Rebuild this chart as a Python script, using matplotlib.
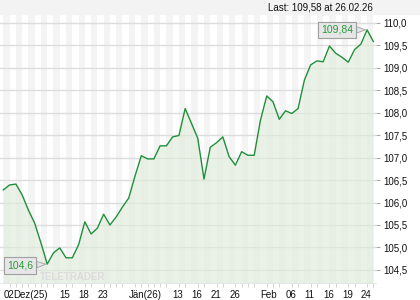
import matplotlib
matplotlib.use("Agg")
import matplotlib.pyplot as plt
from matplotlib.patches import Rectangle

plt.rcParams['font.family'] = ['Liberation Sans', 'DejaVu Sans']

# closing prices, one per trading day 02.12.25 .. 26.02.26
prices = [106.28, 106.39, 106.41, 106.17, 105.83, 105.54, 105.10, 104.63, 104.88, 104.99,
          104.77, 104.77, 105.06, 105.57, 105.30, 105.43, 105.74, 105.50, 105.68, 105.90,
          106.10, 106.59, 107.04, 106.97, 106.97, 107.26, 107.26, 107.46, 107.49, 108.09,
          107.76, 107.43, 106.52, 107.23, 107.33, 107.46, 107.02, 106.83, 107.13, 107.05,
          107.05, 107.83, 108.37, 108.24, 107.85, 108.04, 107.98, 108.09, 108.72, 109.06,
          109.15, 109.13, 109.48, 109.32, 109.23, 109.12, 109.40, 109.52, 109.84, 109.58]

tick_pos = [0, 1.55, 9, 12, 15, 20, 27, 30, 33, 36, 41, 45, 48, 51, 54, 57]
tick_text = ['02', 'Dez(25)', '15', '18', '23', 'Jän(26)', '13', '16', '21', '26',
             'Feb', '06', '11', '16', '19', '24']
y_ticks = [104.5, 105.0, 105.5, 106.0, 106.5, 107.0, 107.5, 108.0, 108.5, 109.0, 109.5, 110.0]

last_text = 'Last: 109,58 at 26.02.26'

x = list(range(len(prices)))
ymin, ymax = 104.21, 110.17

fig = plt.figure(figsize=(4.2, 3.0), dpi=100)
fig.patches.append(Rectangle((0, 1 - 14 / 300), 1, 14 / 300, transform=fig.transFigure,
                             color='#f3f3f3', zorder=0))
ax = fig.add_axes([0.0, 0.0567, 0.8964, 0.8933])

# alternating day stripes
for k in range(0, len(prices) - 1, 2):
    ax.axvspan(k, k + 1, color='#f4f4f4', lw=0, zorder=0)

for v in y_ticks:
    ax.axhline(v, color='#dddddd', lw=1, zorder=1)

ax.fill_between(x, prices, ymin, color='#e0ecdc', alpha=0.65, lw=0, zorder=2)
ax.plot(x, prices, color='#1f8f3a', lw=1.0, zorder=3)

ax.set_xlim(-0.53, 59.5)
ax.set_ylim(ymin, ymax)

ax.yaxis.tick_right()
ax.set_yticks(y_ticks, [f'{v:.1f}'.replace('.', ',') for v in y_ticks])
ax.tick_params(axis='y', length=3, width=0.8, color='#aaaaaa', pad=2, labelsize=7, labelcolor='#111111')

ax.set_xticks(tick_pos, tick_text, ha='left')
ax.set_xticks(x, minor=True)
ax.tick_params(axis='x', which='major', length=0, pad=5, labelsize=7, labelcolor='#111111')
ax.tick_params(axis='x', which='minor', length=3, width=0.6, color='#cccccc')

for s in ['top', 'left', 'right']:
    ax.spines[s].set_visible(False)
ax.spines['bottom'].set_color('#e6e6e6')

# max / min tags
i_max = prices.index(max(prices))
i_min = prices.index(min(prices))
for i, lab in [(i_max, '109,84'), (i_min, '104,6')]:
    ax.annotate(lab, xy=(i, prices[i]), xytext=(-10, -1 if i == i_min else 0),
                textcoords='offset points', ha='right', va='center', fontsize=7.5,
                color='#2a9a3a', zorder=6,
                bbox=dict(boxstyle='square,pad=0.3', fc='#e6e6e6', ec='#a0a0a0', lw=0.8),
                arrowprops=dict(arrowstyle='wedge,tail_width=0.6', fc='#e6e6e6', ec='#a0a0a0',
                                lw=0.6, shrinkA=0, shrinkB=1))

ax.text(0.105, 0.012, 'TELETRADER', transform=ax.transAxes, fontsize=7, fontweight='bold',
        color='#dcdcdc', zorder=5)

fig.text(373 / 420, 1 - 7 / 300, last_text, ha='right', va='center', fontsize=7, color='#111111')

fig.savefig('out.png', dpi=100)
